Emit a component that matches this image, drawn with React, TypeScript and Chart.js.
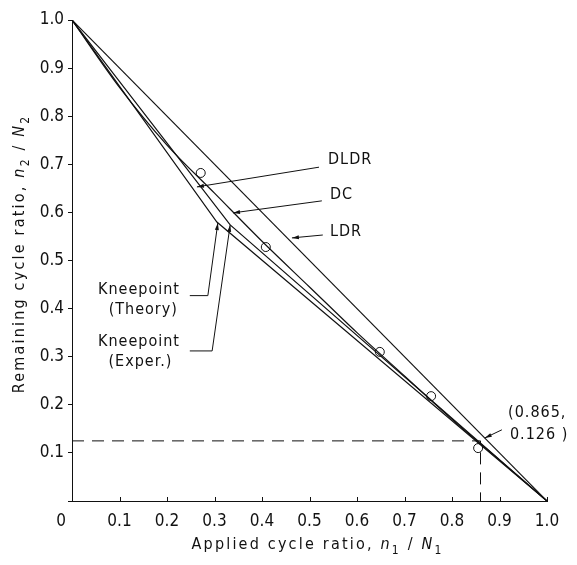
import React, { useEffect, useRef } from 'react';
import { Chart, registerables } from 'chart.js';

Chart.register(...registerables);

// ---- data ----
const LDR_X = [0, 1];
const LDR_Y = [1, 0];

const DLDR_THEORY_X = [0, 0.305, 1];
const DLDR_THEORY_Y = [1, 0.58, 0];

const DLDR_EXPER_X = [0, 0.333, 1];
const DLDR_EXPER_Y = [1, 0.574, 0];

const DC_X = [0, 0.1, 0.2, 0.3, 0.4, 0.5, 0.6, 0.7, 0.8, 0.9, 1.0];
const DC_Y = [1, 0.86, 0.74, 0.64, 0.54, 0.445, 0.35, 0.26, 0.17, 0.085, 0];

const EXP_X = [0.271, 0.408, 0.648, 0.756, 0.855];
const EXP_Y = [0.682, 0.528, 0.31, 0.218, 0.11];

const GUIDE_X = [0, 0.86, 0.86];
const GUIDE_Y = [0.125, 0.125, 0];

const TICK_VALUES = [0.1, 0.2, 0.3, 0.4, 0.5, 0.6, 0.7, 0.8, 0.9, 1.0];
const TICK_LABELS = ['0.1', '0.2', '0.3', '0.4', '0.5', '0.6', '0.7', '0.8', '0.9', '1.0'];

// leader lines: first point is the arrow tip
const LEADER_DLDR_X = [0.263, 0.52];
const LEADER_DLDR_Y = [0.653, 0.694];
const LEADER_DC_X = [0.339, 0.526];
const LEADER_DC_Y = [0.599, 0.624];
const LEADER_LDR_X = [0.463, 0.528];
const LEADER_LDR_Y = [0.547, 0.553];
const LEADER_KT_X = [0.307, 0.286, 0.248];
const LEADER_KT_Y = [0.578, 0.427, 0.427];
const LEADER_KE_X = [0.333, 0.295, 0.248];
const LEADER_KE_Y = [0.574, 0.312, 0.312];
const LEADER_PT_X = [0.869, 0.905];
const LEADER_PT_Y = [0.131, 0.148];

const LABEL_TEXTS = ['DLDR', 'DC', 'LDR', 'Kneepoint', '(Theory)', 'Kneepoint', '(Exper.)', '(0.865,', '0.126 )'];
const LABEL_X = [0.539, 0.543, 0.543, 0.141, 0.15, 0.141, 0.144, 0.918, 0.922];
const LABEL_Y = [0.709, 0.636, 0.559, 0.439, 0.397, 0.331, 0.289, 0.183, 0.137];
const LABEL_ALIGN = ['left', 'left', 'left', 'center', 'center', 'center', 'center', 'left', 'left'];

const X_TITLE = [
  { t: 'Applied cycle ratio, ' },
  { t: 'n', i: true },
  { t: '1', s: true },
  { t: ' / ' },
  { t: 'N', i: true },
  { t: '1', s: true },
];
const Y_TITLE = [
  { t: 'Remaining cycle ratio, ' },
  { t: 'n', i: true },
  { t: '2', s: true },
  { t: ' / ' },
  { t: 'N', i: true },
  { t: '2', s: true },
];

const FAMILY = "'DejaVu Sans Condensed', 'DejaVu Sans', sans-serif";
const INK = '#111';

const zip = (xs: number[], ys: number[]) => xs.map((x, k) => ({ x, y: ys[k] }));

const lineDs = (data: { x: number; y: number }[], extra: any = {}) => ({
  type: 'line',
  data,
  borderColor: INK,
  borderWidth: 1.2,
  pointRadius: 0,
  fill: false,
  tension: 0,
  ...extra,
});

function drawRich(ctx: CanvasRenderingContext2D, segs: any[], cx: number, cy: number, size: number) {
  const parts = segs.map((sg) => {
    const fs = sg.s ? Math.round(size * 0.72) : size;
    const font = `${sg.i ? 'italic ' : ''}${fs}px ${FAMILY}`;
    ctx.font = font;
    return { ...sg, font, w: ctx.measureText(sg.t).width };
  });
  const total = parts.reduce((a, p) => a + p.w, 0);
  let x = cx - total / 2;
  for (const p of parts) {
    ctx.font = p.font;
    ctx.fillText(p.t, x, cy + (p.s ? size * 0.35 : 0));
    x += p.w;
  }
}

const overlay = {
  id: 'overlay',
  afterDatasetsDraw(chart: any) {
    const { ctx, scales } = chart;
    const xs = scales.x;
    const ys = scales.y;
    const area = chart.chartArea;
    ctx.save();
    ctx.fillStyle = INK;
    ctx.strokeStyle = INK;
    ctx.lineWidth = 1;

    // inner ticks on x axis
    for (const v of TICK_VALUES) {
      const px = Math.round(xs.getPixelForValue(v)) + 0.5;
      ctx.beginPath();
      ctx.moveTo(px, area.bottom);
      ctx.lineTo(px, area.bottom - 4);
      ctx.stroke();
    }

    // arrowheads
    const leaders = [
      [LEADER_DLDR_X, LEADER_DLDR_Y],
      [LEADER_DC_X, LEADER_DC_Y],
      [LEADER_LDR_X, LEADER_LDR_Y],
      [LEADER_KT_X, LEADER_KT_Y],
      [LEADER_KE_X, LEADER_KE_Y],
      [LEADER_PT_X, LEADER_PT_Y],
    ];
    for (const [lx, ly] of leaders) {
      const tx = xs.getPixelForValue(lx[0]);
      const ty = ys.getPixelForValue(ly[0]);
      const fx = xs.getPixelForValue(lx[1]);
      const fy = ys.getPixelForValue(ly[1]);
      const a = Math.atan2(ty - fy, tx - fx);
      const L = 7;
      const W = 2;
      ctx.beginPath();
      ctx.moveTo(tx, ty);
      ctx.lineTo(tx - L * Math.cos(a) + W * Math.sin(a), ty - L * Math.sin(a) - W * Math.cos(a));
      ctx.lineTo(tx - L * Math.cos(a) - W * Math.sin(a), ty - L * Math.sin(a) + W * Math.cos(a));
      ctx.closePath();
      ctx.fill();
    }

    // labels
    (ctx as any).letterSpacing = '1px';
    ctx.textBaseline = 'middle';
    LABEL_TEXTS.forEach((t, k) => {
      ctx.font = `16px ${FAMILY}`;
      ctx.textAlign = LABEL_ALIGN[k] as CanvasTextAlign;
      ctx.fillText(t, xs.getPixelForValue(LABEL_X[k]), ys.getPixelForValue(LABEL_Y[k]));
    });

    // origin label
    (ctx as any).letterSpacing = '0px';
    ctx.font = `17px ${FAMILY}`;
    ctx.textAlign = 'center';
    ctx.fillText('0', xs.getPixelForValue(0) - 11, area.bottom + 21);

    // axis titles
    (ctx as any).letterSpacing = '2.2px';
    ctx.textAlign = 'left';
    ctx.textBaseline = 'middle';
    drawRich(ctx, X_TITLE, (area.left + area.right) / 2 + 8, area.bottom + 44, 16);
    ctx.save();
    ctx.translate(20, 254);
    ctx.rotate(-Math.PI / 2);
    drawRich(ctx, Y_TITLE, 0, 0, 16);
    ctx.restore();

    ctx.restore();
  },
};

export default function App() {
  const ref = useRef<HTMLCanvasElement | null>(null);

  useEffect(() => {
    if (!ref.current) return;
    const tickCb = (v: any) => {
      const k = TICK_VALUES.findIndex((t) => Math.abs(t - Number(v)) < 1e-6);
      return k >= 0 ? TICK_LABELS[k] : '';
    };
    const chart = new Chart(ref.current, {
      type: 'line',
      data: {
        datasets: [
          lineDs(zip(LDR_X, LDR_Y)),
          lineDs(zip(DLDR_THEORY_X, DLDR_THEORY_Y)),
          lineDs(zip(DLDR_EXPER_X, DLDR_EXPER_Y)),
          lineDs(zip(DC_X, DC_Y), { cubicInterpolationMode: 'monotone' }),
          lineDs(zip(GUIDE_X, GUIDE_Y), { borderDash: [12, 8], borderWidth: 1 }),
          lineDs(zip(LEADER_DLDR_X, LEADER_DLDR_Y), { borderWidth: 1 }),
          lineDs(zip(LEADER_DC_X, LEADER_DC_Y), { borderWidth: 1 }),
          lineDs(zip(LEADER_LDR_X, LEADER_LDR_Y), { borderWidth: 1 }),
          lineDs(zip(LEADER_KT_X, LEADER_KT_Y), { borderWidth: 1 }),
          lineDs(zip(LEADER_KE_X, LEADER_KE_Y), { borderWidth: 1 }),
          lineDs(zip(LEADER_PT_X, LEADER_PT_Y), { borderWidth: 1 }),
          {
            type: 'scatter',
            data: zip(EXP_X, EXP_Y),
            showLine: false,
            pointStyle: 'circle',
            pointRadius: 4.5,
            pointBorderWidth: 1,
            pointBorderColor: INK,
            pointBackgroundColor: 'rgba(255,255,255,1)',
          } as any,
        ] as any,
      },
      options: {
        animation: false,
        responsive: false,
        maintainAspectRatio: false,
        parsing: false as any,
        normalized: true,
        layout: { padding: { left: 0, right: 30, top: 20, bottom: 0 } },
        plugins: { legend: { display: false }, tooltip: { enabled: false } },
        scales: {
          x: {
            type: 'linear',
            min: 0,
            max: 1,
            afterFit: (s: any) => { s.height = 64; },
            afterBuildTicks: (s: any) => { s.ticks = [0, ...TICK_VALUES].map((v) => ({ value: v })); },
            ticks: { callback: tickCb, color: INK, font: { family: FAMILY, size: 17 }, padding: 10, maxRotation: 0, autoSkip: false },
            grid: { display: true, drawOnChartArea: false, drawTicks: false, color: INK },
            border: { display: true, color: INK, width: 1 },
          },
          y: {
            type: 'linear',
            min: 0,
            max: 1,
            afterFit: (s: any) => { s.width = 72; },
            afterBuildTicks: (s: any) => { s.ticks = [0, ...TICK_VALUES].map((v) => ({ value: v })); },
            ticks: { callback: tickCb, color: INK, font: { family: FAMILY, size: 17 }, padding: 4, autoSkip: false },
            grid: { display: true, drawOnChartArea: false, drawTicks: true, tickLength: 4, color: INK },
            border: { display: true, color: INK, width: 1 },
          },
        },
      } as any,
      plugins: [overlay],
    });
    return () => chart.destroy();
  }, []);

  return (
    <div style={{ position: 'fixed', left: 0, top: 0, width: 577, height: 565, background: '#fff' }}>
      <canvas ref={ref} width={577} height={565} style={{ width: 577, height: 565, display: 'block' }} />
    </div>
  );
}
